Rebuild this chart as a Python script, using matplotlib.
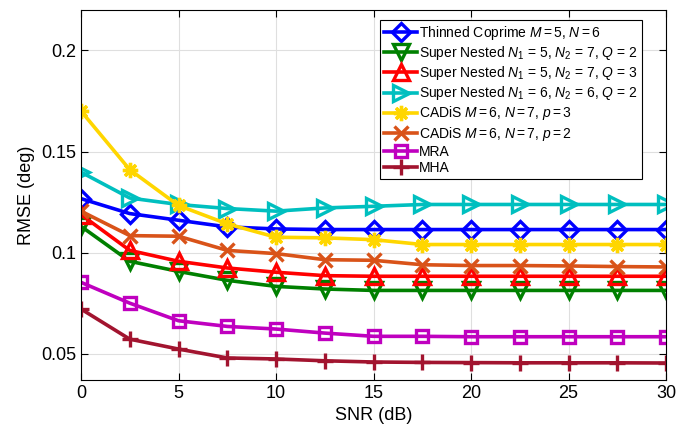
import matplotlib.pyplot as plt

plt.rcParams['font.family'] = ['Liberation Sans', 'DejaVu Sans']
plt.rcParams['mathtext.fontset'] = 'custom'
plt.rcParams['mathtext.rm'] = 'Liberation Sans'
plt.rcParams['mathtext.it'] = 'Liberation Sans:italic'

snr = [0, 2.5, 5, 7.5, 10, 12.5, 15, 17.5, 20, 22.5, 25, 27.5, 30]

thinned_coprime = [0.1267, 0.1193, 0.1160, 0.1127, 0.1117, 0.1114, 0.1114, 0.1114, 0.1114, 0.1114, 0.1114, 0.1114, 0.1114]
super_nested_572 = [0.1130, 0.0957, 0.0907, 0.0863, 0.0833, 0.0820, 0.0813, 0.0813, 0.0813, 0.0813, 0.0813, 0.0813, 0.0813]
super_nested_573 = [0.1188, 0.1011, 0.0957, 0.0924, 0.0903, 0.0886, 0.0883, 0.0883, 0.0883, 0.0883, 0.0883, 0.0883, 0.0883]
super_nested_662 = [0.1398, 0.1270, 0.1238, 0.1218, 0.1205, 0.1221, 0.1229, 0.1238, 0.1238, 0.1238, 0.1238, 0.1238, 0.1238]
cadis_p3 = [0.1700, 0.1410, 0.1233, 0.1142, 0.1076, 0.1073, 0.1064, 0.1040, 0.1040, 0.1040, 0.1040, 0.1040, 0.1040]
cadis_p2 = [0.1205, 0.1084, 0.1081, 0.1011, 0.0995, 0.0965, 0.0962, 0.0940, 0.0936, 0.0936, 0.0934, 0.0931, 0.0929]
mra = [0.0853, 0.0750, 0.0663, 0.0635, 0.0622, 0.0602, 0.0586, 0.0586, 0.0584, 0.0584, 0.0584, 0.0584, 0.0584]
mha = [0.0721, 0.0572, 0.0523, 0.0479, 0.0474, 0.0465, 0.0459, 0.0457, 0.0456, 0.0455, 0.0455, 0.0455, 0.0454]

series = [
    (thinned_coprime, 'Thinned Coprime $M = 5$, $N = 6$', (0, 0, 1), 'D', 9.5),
    (super_nested_572, 'Super Nested $N_1$ = 5, $N_2$ = 7, $Q$ = 2', (0, 0.5, 0), 'v', 12),
    (super_nested_573, 'Super Nested $N_1$ = 5, $N_2$ = 7, $Q$ = 3', (1, 0, 0), '^', 12),
    (super_nested_662, 'Super Nested $N_1$ = 6, $N_2$ = 6, $Q$ = 2', (0, 0.75, 0.75), '>', 12),
    (cadis_p3, 'CADiS $M = 6$, $N = 7$, $p = 3$', (1, 0.84, 0), (8, 2, 0), 11),
    (cadis_p2, 'CADiS $M = 6$, $N = 7$, $p = 2$', (0.85, 0.325, 0.098), 'x', 10),
    (mra, 'MRA', (0.75, 0, 0.75), 's', 8.5),
    (mha, 'MHA', (0.635, 0.078, 0.184), '+', 12),
]

fig = plt.figure(figsize=(6.79, 4.33), dpi=100)
ax = fig.add_axes([0.1193, 0.1224, 0.8617, 0.8546])

for vals, label, color, marker, ms in series:
    ax.plot(snr, vals, color=color, lw=2.6, marker=marker, markersize=ms,
            markerfacecolor='none', markeredgewidth=2.4, label=label)

ax.set_xlim(0, 30)
ax.set_ylim(0.037, 0.22)
ax.set_xticks([0, 5, 10, 15, 20, 25, 30])
ax.set_yticks([0.05, 0.1, 0.15, 0.2])
ax.set_yticklabels(['0.05', '0.1', '0.15', '0.2'])
ax.tick_params(direction='in', top=True, right=True, labelsize=13, length=5, width=0.8)
ax.grid(True, color='#dfdfdf', lw=0.8)
for s in ax.spines.values():
    s.set_linewidth(0.8)
ax.set_xlabel('SNR (dB)', fontsize=13)
ax.set_ylabel('RMSE (deg)', fontsize=13)

leg = ax.legend(loc='upper right', bbox_to_anchor=(642 / 679, 1 - 20 / 433),
                bbox_transform=fig.transFigure, fontsize=10, handlelength=2.4,
                handletextpad=0.15, labelspacing=0.15, borderpad=0.3,
                borderaxespad=0, fancybox=False, framealpha=1)
leg.get_frame().set_edgecolor('black')
leg.get_frame().set_linewidth(0.8)

fig.savefig('out.png', dpi=100)
